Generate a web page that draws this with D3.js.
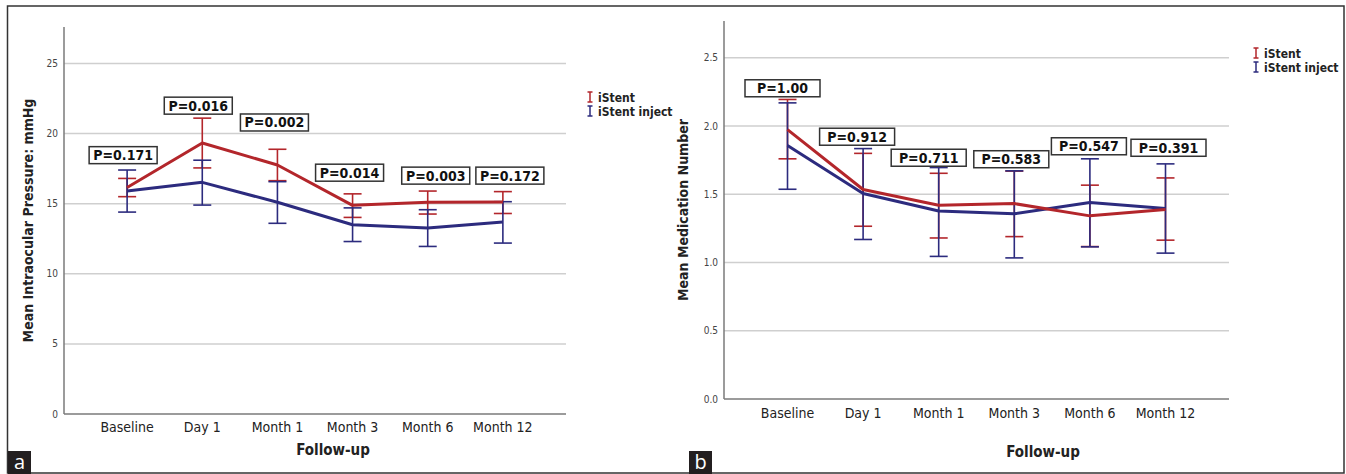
<!DOCTYPE html>
<html>
<head>
<meta charset="utf-8">
<script src="https://cdn.jsdelivr.net/npm/d3@7"></script>
<style>
	body { margin: 0; background: #fff; }
	svg { display: block; font-family: "DejaVu Sans Condensed", "DejaVu Sans", sans-serif; }
	.grid { stroke: #cfcfcf; stroke-width: 1.5; }
	.axisline { stroke: #7a7a7a; stroke-width: 1.5; }
	.ytick { font-size: 10px; fill: #444; }
	.xtick { font-size: 14px; fill: #222; }
	.title { font-size: 14px; font-weight: bold; fill: #222; }
	.plabel { font-size: 14px; font-weight: bold; fill: #111; }
	.legend { font-size: 12px; font-weight: bold; fill: #222; }
</style>
</head>
<body>
<script>
var followUp = ["Baseline", "Day 1", "Month 1", "Month 3", "Month 6", "Month 12"];
var seriesNames = ["iStent", "iStent inject"];

// panel a: mean IOP (mmHg) with error bar low/high
var iopStent = [16.15, 19.33, 17.76, 14.88, 15.10, 15.12];
var iopStentLow = [15.5, 17.55, 16.64, 14.02, 14.26, 14.30];
var iopStentHigh = [16.8, 21.1, 18.88, 15.70, 15.90, 15.86];
var iopInject = [15.9, 16.52, 15.10, 13.50, 13.26, 13.69];
var iopInjectLow = [14.4, 14.9, 13.60, 12.30, 11.95, 12.19];
var iopInjectHigh = [17.4, 18.1, 16.57, 14.70, 14.57, 15.14];
var iopTicks = [0, 5, 10, 15, 20, 25];
var iopP = ["P=0.171", "P=0.016", "P=0.002", "P=0.014", "P=0.003", "P=0.172"];
var iopPAt = [18.46, 21.99, 20.79, 17.21, 17.0, 17.0];

// panel b: mean medication number
var medStent = [1.974, 1.535, 1.42, 1.432, 1.342, 1.389];
var medStentLow = [1.76, 1.266, 1.18, 1.19, 1.117, 1.164];
var medStentHigh = [2.195, 1.80, 1.654, 1.67, 1.567, 1.62];
var medInject = [1.857, 1.506, 1.378, 1.357, 1.44, 1.396];
var medInjectLow = [1.537, 1.169, 1.045, 1.034, 1.115, 1.069];
var medInjectHigh = [2.17, 1.835, 1.696, 1.672, 1.76, 1.723];
var medTicks = [0, 0.5, 1.0, 1.5, 2.0, 2.5];
var medP = ["P=1.00", "P=0.912", "P=0.711", "P=0.583", "P=0.547", "P=0.391"];
var medPAt = [2.277, 1.922, 1.768, 1.757, 1.852, 1.841];

var colors = ["#b3262b", "#2c2b7e"];

var svg = d3.select("body").append("svg")
	.attr("width", 1346)
	.attr("height", 474);

function series(mean, low, high) {
	return followUp.map(function(c, i) {
		return {cat: c, mean: mean[i], low: low[i], high: high[i]};
	});
}

function drawPanel(p) {
	var x = d3.scalePoint().domain(followUp).range([p.x0, p.x1]).padding(0.84),
		y = d3.scaleLinear().domain([0, p.ymax]).range([p.yBottom, p.yTop]),
		g = svg.append("g"),
		line = d3.line().x(function(d) {return x(d.cat);}).y(function(d) {return y(d.mean);});

	g.selectAll("line.grid").data(p.ticks.filter(function(t) {return t > 0;}))
		.enter().append("line")
		.classed("grid", true)
		.attr("x1", p.x0).attr("x2", p.x1)
		.attr("y1", function(d) {return y(d);})
		.attr("y2", function(d) {return y(d);});

	g.selectAll("text.ytick").data(p.ticks)
		.enter().append("text")
		.classed("ytick", true)
		.attr("x", p.x0 - 6)
		.attr("y", function(d) {return y(d) + 3.5;})
		.attr("text-anchor", "end")
		.text(function(d) {return p.fmt(d);});

	g.append("line").classed("axisline", true)
		.attr("x1", p.x0).attr("x2", p.x0)
		.attr("y1", p.yTop).attr("y2", p.yBottom);
	g.append("line").classed("axisline", true)
		.attr("x1", p.x0).attr("x2", p.x1)
		.attr("y1", p.yBottom).attr("y2", p.yBottom);

	g.selectAll("text.xtick").data(followUp)
		.enter().append("text")
		.classed("xtick", true)
		.attr("x", function(d) {return x(d);})
		.attr("y", p.yBottom + p.xLabelGap)
		.attr("text-anchor", "middle")
		.text(function(d) {return d;});

	g.append("text").classed("title", true)
		.attr("x", p.xTitleX).attr("y", p.xTitleY)
		.attr("text-anchor", "middle")
		.style("font-size", "15px")
		.text("Follow-up");

	g.append("text").classed("title", true)
		.attr("transform", "translate(" + p.yTitleX + "," + ((p.yTop + p.yBottom) / 2) + ") rotate(-90)")
		.attr("text-anchor", "middle")
		.attr("dy", "0.35em")
		.text(p.yTitle);

	// error bars
	p.data.forEach(function(s, k) {
		var bars = g.selectAll("g.err" + k).data(s)
			.enter().append("g")
			.attr("stroke", colors[k])
			.attr("stroke-width", 1.6);
		bars.append("line")
			.attr("x1", function(d) {return x(d.cat);})
			.attr("x2", function(d) {return x(d.cat);})
			.attr("y1", function(d) {return y(d.low);})
			.attr("y2", function(d) {return y(d.high);});
		["low", "high"].forEach(function(end) {
			bars.append("line")
				.attr("x1", function(d) {return x(d.cat) - 9;})
				.attr("x2", function(d) {return x(d.cat) + 9;})
				.attr("y1", function(d) {return y(d[end]);})
				.attr("y2", function(d) {return y(d[end]);});
		});
	});

	// mean lines, inject first
	[1, 0].forEach(function(k) {
		g.append("path")
			.datum(p.data[k])
			.attr("fill", "none")
			.attr("stroke", colors[k])
			.attr("stroke-width", 3)
			.attr("stroke-linejoin", "round")
			.attr("d", line);
	});

	// p value boxes
	var pl = g.selectAll("g.pl").data(p.pLabels)
		.enter().append("g")
		.attr("transform", function(d, i) {
			return "translate(" + (x(followUp[i]) + p.pShift[i]) + "," + y(p.pAt[i]) + ")";
		});
	pl.append("rect")
		.attr("x", -p.boxW / 2).attr("y", -8.5)
		.attr("width", p.boxW).attr("height", 17)
		.attr("fill", "#fff")
		.attr("stroke", "#333")
		.attr("stroke-width", 1.5);
	pl.append("text").classed("plabel", true)
		.attr("text-anchor", "middle")
		.attr("y", 5)
		.text(function(d) {return d;});

	// legend
	var lg = g.selectAll("g.lg").data(seriesNames)
		.enter().append("g")
		.attr("transform", function(d, i) {
			return "translate(" + p.legX + "," + (p.legY + i * 14) + ")";
		});
	lg.append("path")
		.attr("d", "M-2.5,-5H2.5M0,-5V5M-2.5,5H2.5")
		.attr("fill", "none")
		.attr("stroke-width", 1.5)
		.attr("stroke", function(d, i) {return colors[i];});
	lg.append("text").classed("legend", true)
		.attr("x", 8)
		.attr("y", 4.5)
		.text(function(d) {return d;});
}

drawPanel({
	x0: 64, x1: 566, yTop: 27, yBottom: 414, ymax: 27.6,
	ticks: iopTicks, fmt: d3.format("d"),
	data: [series(iopStent, iopStentLow, iopStentHigh), series(iopInject, iopInjectLow, iopInjectHigh)],
	pLabels: iopP, pAt: iopPAt, pShift: [-4, -4, -3, -3, 8, 7], boxW: 68,
	xLabelGap: 18, xTitleX: 333, xTitleY: 455,
	yTitle: "Mean Intraocular Pressure: mmHg", yTitleX: 28,
	legX: 590, legY: 97
});

drawPanel({
	x0: 724, x1: 1229, yTop: 21, yBottom: 399, ymax: 2.77,
	ticks: medTicks, fmt: d3.format(".1f"),
	data: [series(medStent, medStentLow, medStentHigh), series(medInject, medInjectLow, medInjectHigh)],
	pLabels: medP, pAt: medPAt, pShift: [-5, -6, -10, -3, -1, 3], boxW: 75,
	xLabelGap: 19, xTitleX: 1043, xTitleY: 457,
	yTitle: "Mean Medication Number", yTitleX: 683,
	legX: 1256, legY: 53
});

// outer frame and panel letters
svg.append("rect")
	.attr("x", 7.5).attr("y", 6)
	.attr("width", 1336.5).attr("height", 467)
	.attr("fill", "none")
	.attr("stroke", "#333")
	.attr("stroke-width", 1.5);

[["a", 8], ["b", 689]].forEach(function(l) {
	svg.append("rect")
		.attr("x", l[1]).attr("y", 451)
		.attr("width", 23).attr("height", 23)
		.attr("fill", "#231f20");
	svg.append("text")
		.attr("x", l[1] + 11.5).attr("y", 469)
		.attr("text-anchor", "middle")
		.style("font-family", "'Open Sans', 'DejaVu Sans', sans-serif")
		.style("font-size", "20px")
		.attr("fill", "#fff")
		.text(l[0]);
});
</script>
</body>
</html>
